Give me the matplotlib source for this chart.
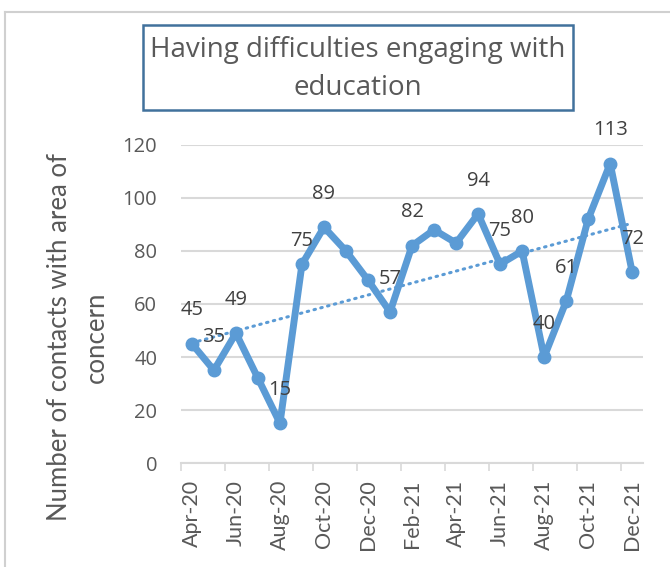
import numpy as np
import matplotlib.pyplot as plt
from matplotlib.lines import Line2D
from matplotlib.patches import Rectangle

plt.rcParams['font.family'] = ['Open Sans', 'DejaVu Sans']

months = ['Apr-20', 'May-20', 'Jun-20', 'Jul-20', 'Aug-20', 'Sep-20', 'Oct-20',
          'Nov-20', 'Dec-20', 'Jan-21', 'Feb-21', 'Mar-21', 'Apr-21', 'May-21',
          'Jun-21', 'Jul-21', 'Aug-21', 'Sep-21', 'Oct-21', 'Nov-21', 'Dec-21']
contacts = [45, 35, 49, 32, 15, 75, 89, 80, 69, 57, 82, 88, 83, 94,
            75, 80, 40, 61, 92, 113, 72]
# which points carry a data label in the original
labelled = [1, 1, 1, 0, 1, 1, 1, 0, 0, 1, 1, 0, 0, 1, 1, 1, 1, 1, 0, 1, 1]

line_col = '#5B9BD5'
text_col = '#595959'

fig = plt.figure(figsize=(6.7, 5.67), dpi=100)
ax = fig.add_axes([0.270, 0.1834, 0.690, 0.5609])

x = np.arange(len(months))
ax.plot(x, contacts, color=line_col, lw=5, marker='o', ms=9,
        solid_joinstyle='round', zorder=3)

# linear trendline
p = np.polyfit(x, contacts, 1)
ax.plot(x, np.polyval(p, x), color=line_col, lw=2.2, ls=(0, (0.5, 1.8)),
        dash_capstyle='round', zorder=2)

for i, v in enumerate(contacts):
    if labelled[i]:
        dy = 17 if i == 5 else 24
        ax.annotate(str(v), (i, v), xytext=(0, dy), textcoords='offset points',
                    ha='center', va='center', fontsize=14.5, color='#404040',
                    annotation_clip=False, zorder=4)

ax.set_xlim(-0.5, 20.5)
ax.set_ylim(0, 120)
ax.set_yticks(range(0, 121, 20))
ax.set_xticks(x[::2])
ax.set_xticklabels(months[::2], rotation=90, family=['Lato', 'DejaVu Sans'])
ax.set_xticks(np.arange(-0.5, 20, 2), minor=True)
ax.tick_params(axis='x', which='major', length=0, pad=12, labelsize=15.5, labelcolor=text_col)
ax.tick_params(axis='x', which='minor', length=6, color='#d9d9d9', width=1.2)
ax.tick_params(axis='y', length=0, pad=17, labelsize=14.5, labelcolor=text_col)
ax.grid(axis='y', color='#d9d9d9', lw=1.5)
ax.set_axisbelow(True)
for s in ['top', 'right', 'left']:
    ax.spines[s].set_visible(False)
ax.spines['bottom'].set_color('#d9d9d9')
ax.spines['bottom'].set_linewidth(1.5)

fig.text(0.1157, 0.4056, 'Number of contacts with area of\nconcern', rotation=90,
         ha='center', va='center', fontsize=18.5, color=text_col, linespacing=1.6,
         family=['Lato', 'DejaVu Sans'])

# title box
fig.add_artist(Rectangle((143 / 670, 1 - 110 / 567), 430 / 670, 85 / 567,
                         transform=fig.transFigure, fill=False,
                         edgecolor='#41719C', lw=1.8))
fig.text(358 / 670, 1 - 69 / 567, 'Having difficulties engaging with\neducation',
         ha='center', va='center', fontsize=20, color=text_col, linespacing=1.45)

# chart area border (cropped)
fig.add_artist(Line2D([5 / 670, 5 / 670], [0, 1 - 12 / 567], transform=fig.transFigure,
                      color='#d0d0d0', lw=1.5))
fig.add_artist(Line2D([5 / 670, 1], [1 - 12 / 567, 1 - 12 / 567], transform=fig.transFigure,
                      color='#d0d0d0', lw=1.5))

fig.savefig('out.png', dpi=100, facecolor='white')
